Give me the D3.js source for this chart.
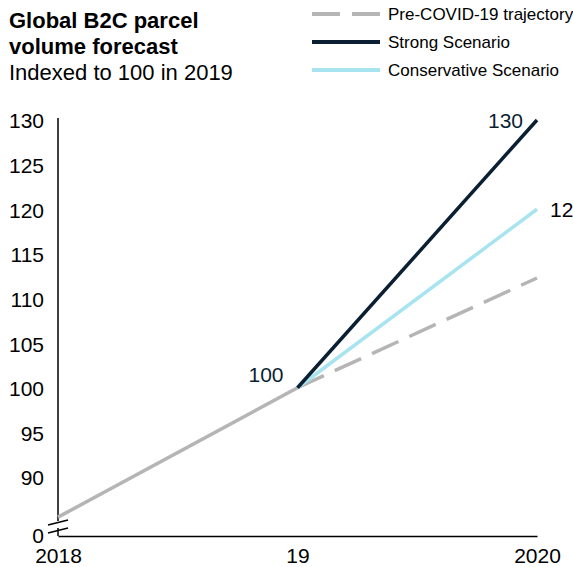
<!DOCTYPE html>
<html>
<head>
<meta charset="utf-8">
<script src="https://cdn.jsdelivr.net/npm/d3@7"></script>
<style>
  html, body { margin: 0; padding: 0; background: #fff; }
  svg { display: block; font-family: "Liberation Sans", Arial, sans-serif; }
</style>
</head>
<body>
<svg id="chart" width="573" height="567"></svg>
<script>
// ---- data ----
const years = [2018, 2019, 2020];
const xTickLabels = ["2018", "19", "2020"];
const historyYears = [2018, 2019];
const historyValues = [85.5, 100];
const scenarioYears = [2019, 2020];
const preCovidValues = [100, 112.3];
const strongValues = [100, 130];
const conservativeValues = [100, 120];
const axisBreakValue = 83.5;               // bottom of broken axis, labelled "0"
const yTickValues = [83.5, 90, 95, 100, 105, 110, 115, 120, 125, 130];
const yTickLabels = ["0", "90", "95", "100", "105", "110", "115", "120", "125", "130"];
const legendNames = ["Pre-COVID-19 trajectory", "Strong Scenario", "Conservative Scenario"];
const titleLines = ["Global B2C parcel", "volume forecast"];
const subtitle = "Indexed to 100 in 2019";

// ---- styles ----
const cGray = "#b5b5b5", cStrong = "#0b1f33", cCons = "#a8e4ef";
const svg = d3.select("#chart");

const x = d3.scaleLinear().domain([2018, 2020]).range([58, 537]);
const y = d3.scaleLinear().domain([90, 130]).range([477, 120]);

// title
const t = svg.append("g");
titleLines.forEach((s, i) => t.append("text").attr("x", 9).attr("y", 28 + i * 26)
  .attr("font-size", 22).attr("font-weight", "bold").attr("fill", "#000").text(s));
t.append("text").attr("x", 9).attr("y", 80).attr("font-size", 22).attr("fill", "#000").text(subtitle);

// legend
const legColors = [cGray, cStrong, cCons];
const leg = svg.append("g");
legendNames.forEach((n, i) => {
  const yy = 14 + i * 28;
  leg.append("line").attr("x1", 312).attr("x2", 380).attr("y1", yy).attr("y2", yy)
    .attr("stroke", legColors[i]).attr("stroke-width", 4)
    .attr("stroke-dasharray", i === 0 ? "28 12" : null);
  leg.append("text").attr("x", 388).attr("y", yy + 6).attr("font-size", 17).attr("fill", "#000").text(n);
});

// axes
const y0 = y(axisBreakValue);
const axisG = svg.append("g").attr("stroke", "#000").attr("stroke-width", 1.5);
axisG.append("line").attr("x1", x(2018)).attr("x2", x(2018)).attr("y1", y(130) - 2).attr("y2", y0 - 14);
axisG.append("line").attr("x1", x(2018)).attr("x2", x(2018)).attr("y1", y0 - 7).attr("y2", y0 + 1);
axisG.append("line").attr("x1", x(2018) - 10).attr("x2", x(2018) + 10).attr("y1", y0 - 10).attr("y2", y0 - 15);
axisG.append("line").attr("x1", x(2018) - 10).attr("x2", x(2018) + 10).attr("y1", y0 - 2).attr("y2", y0 - 7);

const yAxis = svg.append("g").attr("transform", `translate(${x(2018) - 14},0)`)
  .call(d3.axisLeft(y).tickValues(yTickValues).tickFormat((d, i) => yTickLabels[i]).tickSize(0).tickPadding(0));
yAxis.select(".domain").remove();
yAxis.selectAll("text").attr("font-size", 21).attr("font-family", "Liberation Sans, Arial, sans-serif")
  .attr("fill", "#000").attr("dy", "0.38em");

const xAxis = svg.append("g").attr("transform", `translate(0,${y0 + 1})`)
  .call(d3.axisBottom(x).tickValues(years).tickFormat((d, i) => xTickLabels[i]).tickSize(0).tickSizeOuter(0).tickPadding(0));
xAxis.select(".domain").attr("stroke", "#000").attr("stroke-width", 1.5);
xAxis.selectAll("text").attr("font-size", 21).attr("font-family", "Liberation Sans, Arial, sans-serif")
  .attr("fill", "#000").attr("dy", "1.3em");

// lines
const line = d3.line().x(d => x(d[0])).y(d => y(d[1]));
const zip = (a, b) => a.map((v, i) => [v, b[i]]);
svg.append("path").attr("d", line(zip(historyYears, historyValues))).attr("fill", "none")
  .attr("stroke", cGray).attr("stroke-width", 3.5);
svg.append("path").attr("d", line(zip(scenarioYears, preCovidValues))).attr("fill", "none")
  .attr("stroke", cGray).attr("stroke-width", 3.5).attr("stroke-dasharray", "29 12");
svg.append("path").attr("d", line(zip(scenarioYears, conservativeValues))).attr("fill", "none")
  .attr("stroke", cCons).attr("stroke-width", 3.5);
svg.append("path").attr("d", line(zip(scenarioYears, strongValues))).attr("fill", "none")
  .attr("stroke", cStrong).attr("stroke-width", 3.5);

// value labels
svg.append("text").attr("x", x(2020) - 14).attr("y", y(strongValues[1]) + 8).attr("text-anchor", "end")
  .attr("font-size", 21).attr("fill", cStrong).text(strongValues[1]);
svg.append("text").attr("x", x(2020) + 13).attr("y", y(conservativeValues[1]) + 8)
  .attr("font-size", 21).attr("fill", "#000").text(conservativeValues[1]);
svg.append("text").attr("x", x(2019) - 14).attr("y", y(100) - 6).attr("text-anchor", "end")
  .attr("font-size", 21).attr("fill", cStrong).text(historyValues[1]);
</script>
</body>
</html>
